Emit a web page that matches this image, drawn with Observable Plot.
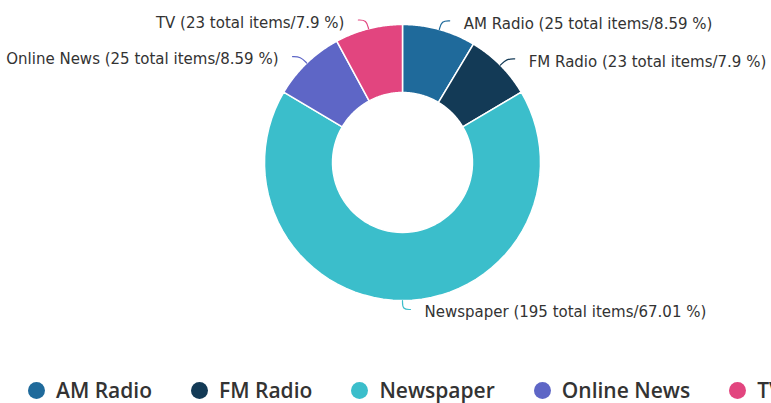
<!DOCTYPE html>
<html>
<head>
<meta charset="utf-8">
<script src="https://cdn.jsdelivr.net/npm/d3@7"></script>
<script src="https://cdn.jsdelivr.net/npm/@observablehq/plot@0.6"></script>
<style>
  html, body { margin: 0; padding: 0; background: #fff; }
  body { width: 771px; height: 403px; overflow: hidden; }
  #legend { height: 36px; display: flex; align-items: center; white-space: nowrap;
    padding-left: 28px; font-family: "Open Sans", sans-serif; font-weight: 600;
    font-size: 21px; color: #333; }
  .item { display: inline-flex; align-items: center; margin-right: 39px; flex: none; }
  .dot { width: 17px; height: 17px; border-radius: 50%; margin-right: 11px; display: inline-block; }
</style>
</head>
<body>
<div id="chart"></div>
<div id="legend"></div>
<script>
const categories = ["AM Radio", "FM Radio", "Newspaper", "Online News", "TV"];
const counts = [25, 23, 195, 25, 23];
const percents = ["8.59", "7.9", "67.01", "8.59", "7.9"];
const colors = ["#1f6a9b", "#133a56", "#3bbecb", "#5e66c6", "#e2457f"];

const W = 771, H = 372, cx = 402, cy = 162;
const rOuter = 138, rInner = 70, rExt = 147;

const arcs = d3.pie().sort(null).value(d => d)(counts);

// slice polygons in centre-relative units (y up)
const slicePts = [];
arcs.forEach((a, i) => {
  const n = 60;
  for (let k = 0; k <= n; k++) {
    const t = a.startAngle + (a.endAngle - a.startAngle) * k / n;
    slicePts.push({cat: categories[i], x: rOuter * Math.sin(t), y: rOuter * Math.cos(t)});
  }
  for (let k = n; k >= 0; k--) {
    const t = a.startAngle + (a.endAngle - a.startAngle) * k / n;
    slicePts.push({cat: categories[i], x: rInner * Math.sin(t), y: rInner * Math.cos(t)});
  }
  const t0 = a.startAngle;
  slicePts.push({cat: categories[i], x: rOuter * Math.sin(t0), y: rOuter * Math.cos(t0)});
});

// connectors and labels
const connPts = [];
const labels = [];
arcs.forEach((a, i) => {
  const m = (a.startAngle + a.endAngle) / 2;
  const side = m <= Math.PI + 1e-3 ? 1 : -1;
  const ax = rOuter * Math.sin(m), ay = rOuter * Math.cos(m);
  const bx = rExt * Math.sin(m), by = rExt * Math.cos(m);
  const ex = bx + side * 8;
  connPts.push({cat: categories[i], x: ax, y: ay});
  connPts.push({cat: categories[i], x: bx, y: by});
  connPts.push({cat: categories[i], x: ex, y: by});
  labels.push({
    side,
    x: ex + side * 14,
    y: by,
    text: `${categories[i]} (${counts[i]} total items/${percents[i]} %)`
  });
});

const chart = Plot.plot({
  width: W,
  height: H,
  margin: 0,
  x: {domain: [-cx, W - cx], axis: null},
  y: {domain: [-(H - cy), cy], axis: null},
  color: {domain: categories, range: colors},
  marks: [
    Plot.line(slicePts, {x: "x", y: "y", z: "cat", fill: "cat", stroke: "white", strokeWidth: 1.5, strokeLinejoin: "round"}),
    Plot.line(connPts, {x: "x", y: "y", z: "cat", stroke: "cat", strokeWidth: 1.2, curve: "basis"}),
    Plot.text(labels.filter(d => d.side > 0), {x: "x", y: "y", text: "text", textAnchor: "start", dy: 3,
      fontSize: 15, fontFamily: "DejaVu Sans", fill: "#333"}),
    Plot.text(labels.filter(d => d.side < 0), {x: "x", y: "y", text: "text", textAnchor: "end", dy: 3,
      fontSize: 15, fontFamily: "DejaVu Sans", fill: "#333"})
  ]
});
document.getElementById("chart").appendChild(chart);

const legend = document.getElementById("legend");
categories.forEach((c, i) => {
  const item = document.createElement("span");
  item.className = "item";
  const dot = document.createElement("span");
  dot.className = "dot";
  dot.style.background = colors[i];
  item.appendChild(dot);
  item.appendChild(document.createTextNode(c));
  legend.appendChild(item);
});
</script>
</body>
</html>
